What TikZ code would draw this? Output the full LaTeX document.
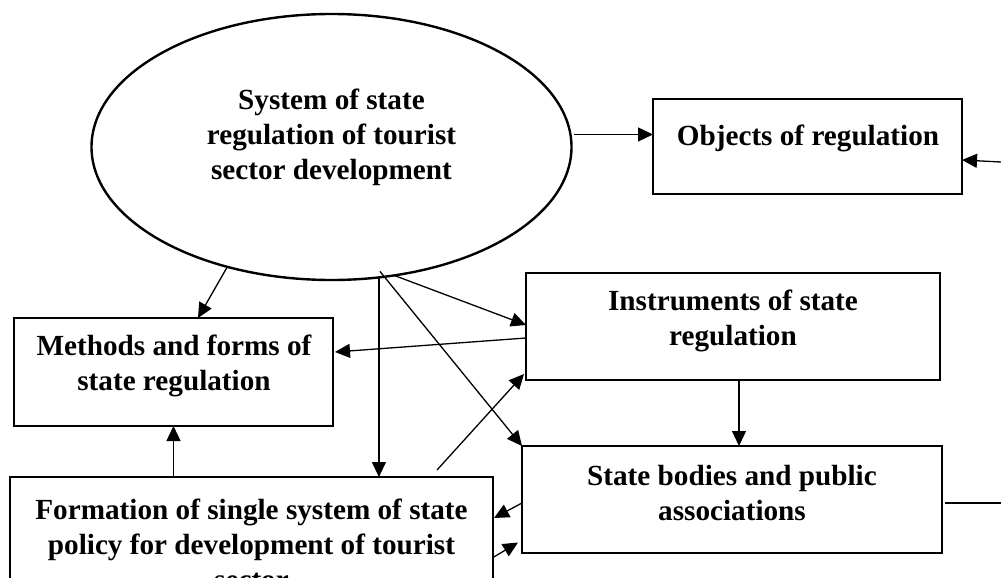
\documentclass[tikz,border=0pt]{standalone}
\usepackage{fontspec}
\setmainfont{Liberation Serif}
\usetikzlibrary{shapes.geometric,arrows.meta,calc}
\begin{document}
\begin{tikzpicture}[x=1pt,y=-1pt,
  box/.style={draw,line width=2.6pt,rectangle,inner sep=0pt,outer sep=0pt},
  oval/.style={draw,line width=2.4pt,ellipse,inner sep=0pt,outer sep=0pt},
  lbl/.style={align=center,font=\fontsize{29.2}{35}\selectfont\bfseries,inner sep=0pt},
  arr/.style={line width=1.3pt,-{Triangle[length=15pt,width=14pt]}},
  ln/.style={line width=1.3pt}]
\useasboundingbox (0,0) rectangle (1001,578);
\clip (0,0) rectangle (1001,578);
\fill[white] (0,0) rectangle (1001,578);
% shapes
\node[oval,minimum width=480pt,minimum height=266pt] (ell) at (331.5,147) {};
\node[box,minimum width=309pt,minimum height=95pt] (obj) at (807.5,146.5) {};
\node[box,minimum width=319pt,minimum height=108pt] (meth) at (173.5,372) {};
\node[box,minimum width=414pt,minimum height=107pt] (inst) at (733,326.5) {};
\node[box,minimum width=420pt,minimum height=107pt] (stb) at (732,499.5) {};
\node[box,minimum width=483pt,minimum height=133pt] (form) at (251.5,543.5) {};
% texts
\node[lbl] (ellt) at (331.5,137.5) {System of state\\regulation of tourist\\sector development};
\node[lbl] (objt) at (808,138) {Objects of regulation};
\node[lbl] (metht) at (174,366) {Methods and forms of\\state regulation};
\node[lbl] (instt) at (733,320.5) {Instruments of state\\regulation};
\node[lbl] (stbt) at (732,493.5) {State bodies and public\\associations};
\node[lbl] (formt) at (251.5,544) {Formation of single system of state\\policy for development of tourist\\sector};
% free ends at the right margin
\coordinate (r1) at (1001,162);
\coordinate (r2) at (1001,503);
% connectors
\draw[arr] ([xshift=4pt]ell.3) -- (ell.3 -| obj.west);
\draw[arr] (r1) -- ($(obj.east)+(0,13.5)$);
\draw[arr] (ell.229) -- ($(meth.north)+(24.5,0)$);
\draw[arr] (ell.290) -- (ell.290 |- form.north);
\draw[arr] ($(ell.290)+(1,-6)$) -- (stb.north west);
\draw[arr] (ell.296) -- ($(inst.west)+(0,-1.5)$);
\draw[arr] ($(inst.west)+(0,11.5)$) -- ($(meth.east)+(2,-20)$);
\draw[arr] ($(form.north)+(185.5,-7)$) -- ($(inst.south west)+(-2,-6)$);
\draw[arr] ($(inst.south)+(6,0)$) -- ($(stb.north)+(7,0)$);
\draw[arr] ($(stb.west)+(0,3.5)$) -- ($(form.east)+(1,-25.5)$);
\draw[arr] ($(form.east)+(0,14)$) -- ($(stb.west)+(-4,43)$);
\draw[arr] (form.north -| meth.south) -- (meth.south);
\draw[ln] ($(stb.east |- r2)+(3,0)$) -- (r2);
\end{tikzpicture}
\end{document}
